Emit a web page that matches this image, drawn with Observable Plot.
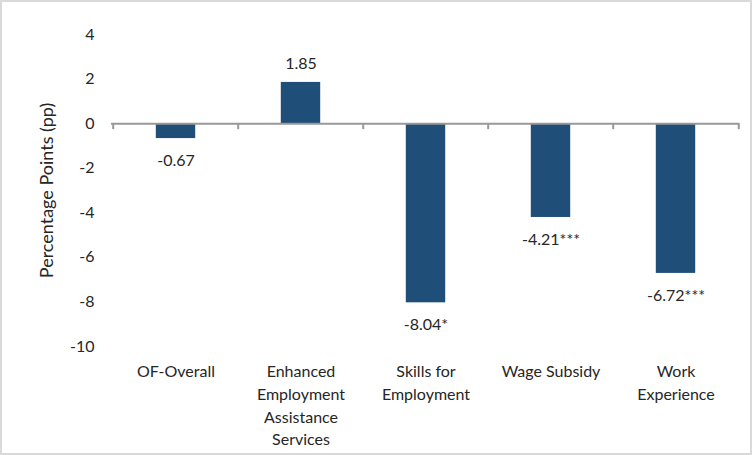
<!DOCTYPE html>
<html>
<head>
<meta charset="utf-8">
<script src="https://cdn.jsdelivr.net/npm/d3@7"></script>
<script src="https://cdn.jsdelivr.net/npm/@observablehq/plot@0.6"></script>
<style>
  body { margin: 0; background: #fff; }
  #wrap { position: relative; width: 752px; height: 455px; }
  #frame { position: absolute; left: 0; top: 0; width: 752px; height: 455px; box-sizing: border-box; border: 2px solid #D9D9D9; pointer-events: none; }
</style>
</head>
<body>
<div id="wrap"><div id="frame"></div></div>
<script>
const categories = ["OF-Overall", "Enhanced Employment Assistance Services", "Skills for Employment", "Wage Subsidy", "Work Experience"];
const tickLabels = ["OF-Overall", "Enhanced\nEmployment\nAssistance\nServices", "Skills for\nEmployment", "Wage Subsidy", "Work\nExperience"];
const values = [-0.67, 1.85, -8.04, -4.21, -6.72];
const valueLabels = ["-0.67", "1.85", "-8.04*", "-4.21***", "-6.72***"];
const yTicks = [-10, -8, -6, -4, -2, 0, 2, 4];
const yTitle = "Percentage Points (pp)";

const data = categories.map((c, i) => ({cat: c, value: values[i], label: valueLabels[i]}));
const labelMap = new Map(categories.map((c, i) => [c, tickLabels[i]]));
const W = 752, ML = 111, MR = 13;
const band = (W - ML - MR) / categories.length;
const FONT = "Lato, sans-serif";

const chart = Plot.plot({
  width: 752,
  height: 455,
  marginTop: 34,
  marginBottom: 109,
  marginLeft: ML,
  marginRight: MR,
  style: {fontFamily: FONT, fontSize: "16px", color: "#262626", background: "transparent"},
  x: {domain: categories, padding: 0},
  y: {domain: [-10, 4]},
  marks: [
    Plot.barY(data, {x: "cat", y: "value", fill: "#1F4E79", insetLeft: band / 2 - 20, insetRight: band / 2 - 20}),
    Plot.ruleY([0], {stroke: "#999999", strokeWidth: 2}),
    Plot.ruleX(data, {x: "cat", y1: 0, y2: -0.27, dx: -band / 2, stroke: "#999999", strokeWidth: 2}),
    Plot.ruleX(data.slice(-1), {x: "cat", y1: 0, y2: -0.27, dx: band / 2, stroke: "#999999", strokeWidth: 2}),
    Plot.text(data.filter(d => d.value >= 0), {x: "cat", y: "value", text: "label", dy: -19, fill: "#262626", fontSize: 16}),
    Plot.text(data.filter(d => d.value < 0), {x: "cat", y: "value", text: "label", dy: 22, fill: "#262626", fontSize: 16}),
    Plot.axisY(yTicks, {tickSize: 0, tickPadding: 17, tickFormat: d => String(d), label: null, fontSize: 16}),
    Plot.text([yTitle], {frameAnchor: "left", rotate: -90, textAnchor: "middle", dx: -64, fontSize: 18, fill: "#262626"}),
    Plot.axisX({tickSize: 0, tickPadding: 14, tickFormat: c => labelMap.get(c), lineHeight: 1.43, fontSize: 16, label: null, anchor: "bottom"})
  ]
});
document.getElementById("wrap").prepend(chart);
</script>
</body>
</html>
